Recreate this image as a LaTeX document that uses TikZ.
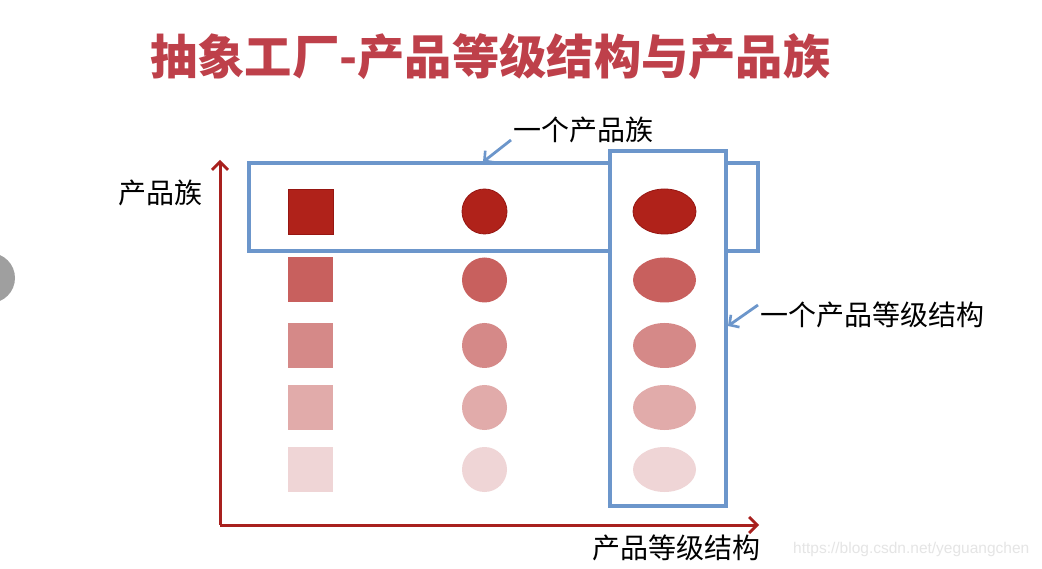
\documentclass[tikz,border=0pt]{standalone}
\usepackage{fontspec}
\setmainfont{Noto Sans CJK SC}
\newfontfamily\wmfont{Liberation Sans}
\usetikzlibrary{arrows.meta,shapes.geometric}
\definecolor{titlered}{RGB}{190,64,74}
\definecolor{axisred}{RGB}{168,32,30}
\definecolor{boxblue}{RGB}{108,150,203}
\definecolor{cA}{RGB}{176,34,26}
\definecolor{cAb}{RGB}{150,22,18}
\definecolor{cB}{RGB}{200,96,94}
\definecolor{cC}{RGB}{213,137,136}
\definecolor{cD}{RGB}{225,171,170}
\definecolor{cE}{RGB}{239,213,214}
\tikzset{
  axis/.style={draw=axisred,line width=3pt,-{Straight Barb[length=8pt,width=16pt,line width=2.8pt]}},
  bluebox/.style={draw=boxblue,line width=3.2pt},
  pointer/.style={draw=boxblue,line width=2.8pt,-{Straight Barb[length=7pt,width=15pt,line width=2.6pt]}},
  sq/.style={rectangle,minimum width=45pt,minimum height=45pt,inner sep=0pt},
  circ/.style={circle,minimum size=45pt,inner sep=0pt},
  ell/.style={ellipse,minimum width=63pt,minimum height=45pt,inner sep=0pt},
  lbl/.style={inner sep=0pt,font=\fontsize{28}{31}\selectfont,text=black},
}
\begin{document}
\begin{tikzpicture}[x=1pt,y=-1pt]
\useasboundingbox[fill=white] (0,0) rectangle (1042,569);
% side marker
\fill[gray!75] (-10,278) circle (25);
% title
\node[inner sep=0pt,anchor=west,text=titlered,font=\fontsize{47.3}{53}\selectfont\bfseries] (title) at (150,57) {抽象工厂-产品等级结构与产品族};
% axes
\coordinate (origin) at (220,525);
\coordinate (ytip) at (220,160);
\coordinate (xtip) at (759,525);
\draw[axis] (origin) -- (ytip);
\draw[axis] (origin) -- (xtip);
\node[lbl,anchor=west] (ylabel) at (118,193) {产品族};
\node[lbl,anchor=west] (xlabel) at (592,548) {产品等级结构};
% product family box (horizontal)
\node[bluebox,rectangle,minimum width=509pt,minimum height=88pt,inner sep=0pt] (family) at (503.5,207) {};
% product level box (vertical)
\node[bluebox,rectangle,fill=white,minimum width=116pt,minimum height=355pt,inner sep=0pt] (level) at (668,328.5) {};
% shapes
\node[sq,fill=cA,draw=cAb,line width=0.8pt] (s1) at (310.5,211.5) {};
\node[sq,fill=cB] (s2) at (310.5,280) {};
\node[sq,fill=cC] (s3) at (310.5,345.5) {};
\node[sq,fill=cD] (s4) at (310.5,407.5) {};
\node[sq,fill=cE] (s5) at (310.5,469.5) {};
\node[circ,fill=cA,draw=cAb,line width=0.8pt] (c1) at (484.5,211.5) {};
\node[circ,fill=cB] (c2) at (484.5,280) {};
\node[circ,fill=cC] (c3) at (484.5,345.5) {};
\node[circ,fill=cD] (c4) at (484.5,407.5) {};
\node[circ,fill=cE] (c5) at (484.5,469.5) {};
\node[ell,fill=cA,draw=cAb,line width=0.8pt] (e1) at (664.5,211.5) {};
\node[ell,fill=cB] (e2) at (664.5,280) {};
\node[ell,fill=cC] (e3) at (664.5,345.5) {};
\node[ell,fill=cD] (e4) at (664.5,407.5) {};
\node[ell,fill=cE] (e5) at (664.5,469.5) {};
% callouts
\node[lbl,anchor=west] (famlabel) at (513,130) {一个产品族};
\coordinate (famstart) at (511,140);
\coordinate (famtip) at (483,162);
\draw[pointer] (famstart) -- (famtip);
\node[lbl,anchor=west] (levlabel) at (760,315) {一个产品等级结构};
\coordinate (levstart) at (758,305);
\coordinate (levtip) at (728,326);
\draw[pointer] (levstart) -- (levtip);
% watermark
\node[inner sep=0pt,anchor=west,text=black!10,font=\wmfont\fontsize{15.5}{18}\selectfont] (wm) at (793,549) {https://blog.csdn.net/yeguangchen};
\end{tikzpicture}
\end{document}
